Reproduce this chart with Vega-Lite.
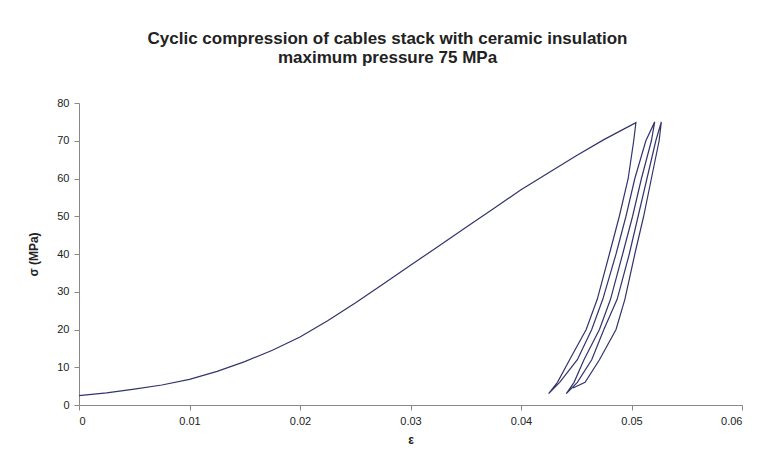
{
  "$schema": "https://vega.github.io/schema/vega-lite/v6.json",
  "width": 663,
  "height": 302,
  "autosize": {"type": "none"},
  "padding": {"left": 79, "top": 103, "right": 15, "bottom": 70},
  "background": "white",
  "title": {
    "text": ["Cyclic compression of cables stack with ceramic insulation", "maximum pressure 75 MPa"],
    "font": "Liberation Sans",
    "fontSize": 17,
    "fontWeight": "bold",
    "color": "#222222",
    "anchor": "middle",
    "dx": -23,
    "offset": 30,
    "lineHeight": 19
  },
  "data": {
    "values": [
      {"i": 1, "e": 0, "s": 2.5},
      {"i": 2, "e": 0.0025, "s": 3.2},
      {"i": 3, "e": 0.005, "s": 4.2},
      {"i": 4, "e": 0.0075, "s": 5.3},
      {"i": 5, "e": 0.01, "s": 6.8},
      {"i": 6, "e": 0.0125, "s": 8.9},
      {"i": 7, "e": 0.015, "s": 11.5},
      {"i": 8, "e": 0.0175, "s": 14.5},
      {"i": 9, "e": 0.02, "s": 18},
      {"i": 10, "e": 0.0225, "s": 22.3},
      {"i": 11, "e": 0.025, "s": 27},
      {"i": 12, "e": 0.0275, "s": 32},
      {"i": 13, "e": 0.03, "s": 37},
      {"i": 14, "e": 0.0325, "s": 42},
      {"i": 15, "e": 0.035, "s": 47},
      {"i": 16, "e": 0.0375, "s": 52},
      {"i": 17, "e": 0.04, "s": 57},
      {"i": 18, "e": 0.0425, "s": 61.5},
      {"i": 19, "e": 0.045, "s": 66},
      {"i": 20, "e": 0.0475, "s": 70.3},
      {"i": 21, "e": 0.0504, "s": 74.8},
      {"i": 22, "e": 0.0502, "s": 70},
      {"i": 23, "e": 0.0497, "s": 60},
      {"i": 24, "e": 0.0489, "s": 50},
      {"i": 25, "e": 0.048, "s": 40},
      {"i": 26, "e": 0.0469, "s": 28},
      {"i": 27, "e": 0.0459, "s": 20},
      {"i": 28, "e": 0.0444, "s": 12},
      {"i": 29, "e": 0.0433, "s": 6},
      {"i": 30, "e": 0.0425, "s": 3},
      {"i": 31, "e": 0.0435, "s": 6},
      {"i": 32, "e": 0.0451, "s": 12},
      {"i": 33, "e": 0.0464, "s": 20},
      {"i": 34, "e": 0.0474, "s": 28},
      {"i": 35, "e": 0.0486, "s": 40},
      {"i": 36, "e": 0.0495, "s": 50},
      {"i": 37, "e": 0.0503, "s": 60},
      {"i": 38, "e": 0.0513, "s": 70},
      {"i": 39, "e": 0.0521, "s": 75},
      {"i": 40, "e": 0.0518, "s": 70},
      {"i": 41, "e": 0.0509, "s": 60},
      {"i": 42, "e": 0.0501, "s": 50},
      {"i": 43, "e": 0.0492, "s": 40},
      {"i": 44, "e": 0.0481, "s": 28},
      {"i": 45, "e": 0.0471, "s": 20},
      {"i": 46, "e": 0.0457, "s": 12},
      {"i": 47, "e": 0.0448, "s": 6},
      {"i": 48, "e": 0.0441, "s": 3},
      {"i": 49, "e": 0.0451, "s": 6},
      {"i": 50, "e": 0.0464, "s": 12},
      {"i": 51, "e": 0.0475, "s": 20},
      {"i": 52, "e": 0.0487, "s": 28},
      {"i": 53, "e": 0.0498, "s": 40},
      {"i": 54, "e": 0.0506, "s": 50},
      {"i": 55, "e": 0.0514, "s": 60},
      {"i": 56, "e": 0.0522, "s": 70},
      {"i": 57, "e": 0.0527, "s": 75},
      {"i": 58, "e": 0.0525, "s": 70},
      {"i": 59, "e": 0.0518, "s": 60},
      {"i": 60, "e": 0.0511, "s": 50},
      {"i": 61, "e": 0.0503, "s": 40},
      {"i": 62, "e": 0.0494, "s": 28},
      {"i": 63, "e": 0.0486, "s": 20},
      {"i": 64, "e": 0.0471, "s": 12},
      {"i": 65, "e": 0.0458, "s": 6},
      {"i": 66, "e": 0.0447, "s": 4.5}
    ]
  },
  "mark": {"type": "line", "color": "#33336e", "strokeWidth": 1.2, "interpolate": "linear"},
  "encoding": {
    "x": {
      "field": "e",
      "type": "quantitative",
      "scale": {"domain": [0, 0.06], "nice": false, "zero": false},
      "axis": {
        "title": "ε",
        "values": [0, 0.01, 0.02, 0.03, 0.04, 0.05, 0.06],
        "labelExpr": "'' + datum.value",
        "grid": false,
        "titlePadding": 8
      }
    },
    "y": {
      "field": "s",
      "type": "quantitative",
      "scale": {"domain": [0, 80], "nice": false},
      "axis": {
        "title": "σ (MPa)",
        "values": [0, 10, 20, 30, 40, 50, 60, 70, 80],
        "grid": false,
        "titlePadding": 16
      }
    },
    "order": {"field": "i", "type": "quantitative"}
  },
  "config": {
    "view": {"stroke": null},
    "axis": {
      "labelFont": "Liberation Sans",
      "titleFont": "Liberation Sans",
      "labelFontSize": 11,
      "titleFontSize": 12,
      "titleFontWeight": "bold",
      "labelColor": "#222222",
      "titleColor": "#222222",
      "domainColor": "#888888",
      "tickColor": "#888888",
      "tickSize": 5,
      "labelPadding": 5
    }
  }
}
